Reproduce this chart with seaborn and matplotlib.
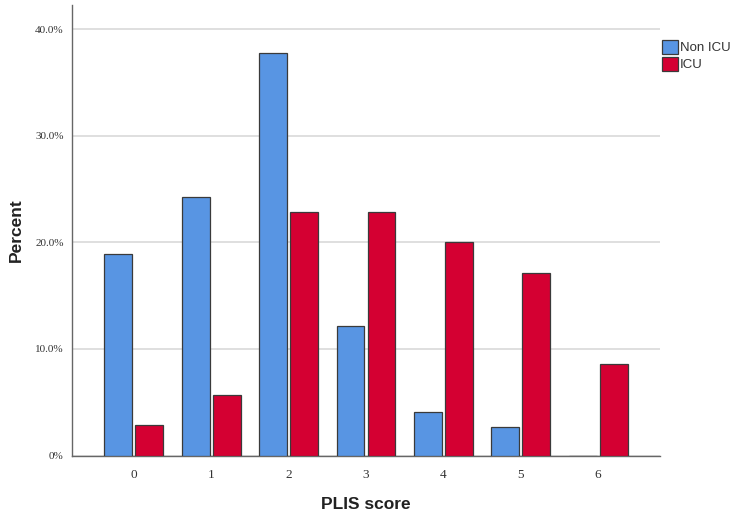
import pandas as pd
import matplotlib
matplotlib.use('Agg')
import matplotlib.pyplot as plt
import seaborn as sns

# Данные
scores = ['0', '1', '2', '3', '4', '5', '6']
non_icu = [18.9, 24.3, 37.8, 12.2, 4.1, 2.7, 0.0]
icu = [2.9, 5.7, 22.9, 22.9, 20.0, 17.1, 8.6]
groups = ['Non ICU', 'ICU']
y_ticks = [0, 10, 20, 30, 40]
y_tick_labels = ['0%', '10.0%', '20.0%', '30.0%', '40.0%']

df = pd.DataFrame({
    'PLIS score': scores * 2,
    'Percent': non_icu + icu,
    'group': [groups[0]] * len(scores) + [groups[1]] * len(scores),
})

sns.set_style('white')

fig = plt.figure(figsize=(7.33, 5.19), dpi=100)
ax = fig.add_axes([72 / 733, 63.5 / 519, 588 / 733, 450.5 / 519])

sns.barplot(data=df, x='PLIS score', y='Percent', hue='group',
            hue_order=groups, order=scores,
            palette=['#5895E3', '#D40032'], saturation=1,
            width=0.8, gap=0.1, edgecolor='#3a3a3a', linewidth=0.9,
            ax=ax, zorder=3)

ax.set_xlim(-0.8, 6.8)
ax.set_ylim(0, 42.3)
ax.set_yticks(y_ticks)
ax.set_yticklabels(y_tick_labels, family='Liberation Serif', fontsize=8, color='#333333')
for lbl in ax.get_xticklabels():
    lbl.set_family('Liberation Serif')
    lbl.set_fontsize(9.5)
    lbl.set_color('#333333')

ax.yaxis.grid(True, color='#d9d9d9', linewidth=1.2, zorder=0)
ax.xaxis.grid(False)
ax.set_axisbelow(True)

for side in ['top', 'right']:
    ax.spines[side].set_visible(False)
for side in ['left', 'bottom']:
    ax.spines[side].set_color('#666666')
    ax.spines[side].set_linewidth(1.0)

ax.tick_params(axis='both', length=0, pad=6)
ax.tick_params(axis='x', pad=10)

ax.set_xlabel('PLIS score', family='Liberation Sans', fontsize=12.5,
              fontweight='bold', color='#222222')
ax.set_ylabel('Percent', family='Liberation Sans', fontsize=12.5,
              fontweight='bold', color='#222222')
ax.xaxis.set_label_coords(0.5, -0.092)
ax.yaxis.set_label_coords(-0.082, 0.5)

leg = ax.legend(loc='upper left', bbox_to_anchor=(1.003, 0.922), frameon=False,
                handlelength=1.2, handleheight=1.2, handletextpad=0.2,
                labelspacing=0.2, borderaxespad=0, borderpad=0,
                prop={'family': 'Liberation Sans', 'size': 9.5})
for txt in leg.get_texts():
    txt.set_color('#333333')

fig.savefig('out.png', dpi=100)
